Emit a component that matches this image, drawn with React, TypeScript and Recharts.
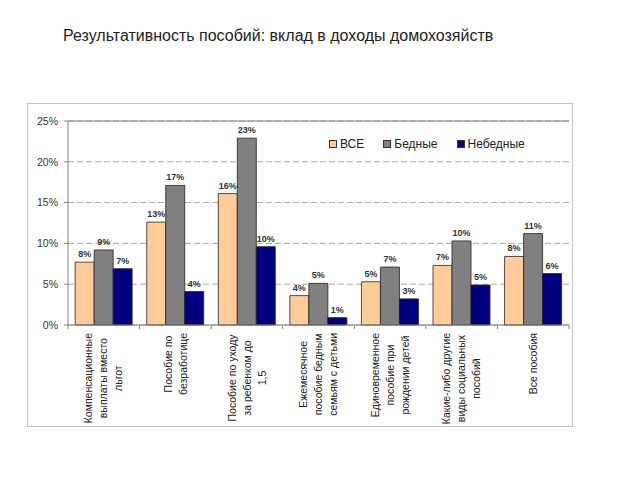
import { BarChart, Bar, XAxis, YAxis, CartesianGrid, Legend, LabelList, ReferenceLine } from 'recharts';

const categories = [
  'Компенсационные\nвыплаты вместо\nльгот',
  'Пособие по\nбезработице',
  'Пособие  по уходу\nза ребенком до\n1,5',
  'Ежемесячное\nпособие бедным\nсемьям с детьми',
  'Единовременное\nпособие при\nрождении детей',
  'Какие-либо другие\nвиды социальных\nпособий',
  'Все пособия',
];

// shares of household income, %
const allValues = [7.7, 12.6, 16.1, 3.6, 5.3, 7.3, 8.4];
const poorValues = [9.2, 17.1, 22.9, 5.1, 7.1, 10.3, 11.2];
const nonPoorValues = [6.9, 4.1, 9.6, 0.9, 3.2, 4.9, 6.3];

const yTicks = [0, 5, 10, 15, 20, 25];

const series = [
  { key: 'all', name: 'ВСЕ', color: '#FFCC99' },
  { key: 'poor', name: 'Бедные', color: '#808080' },
  { key: 'nonPoor', name: 'Небедные', color: '#000080' },
];

const data = categories.map((name, i) => ({
  name,
  all: allValues[i],
  poor: poorValues[i],
  nonPoor: nonPoorValues[i],
}));

const FONT = '"Liberation Sans", Arial, sans-serif';
const TICK_FONT_SIZE = 10.5;

let measureCtx: CanvasRenderingContext2D | null = null;
function textWidth(s: string) {
  if (!measureCtx) measureCtx = document.createElement('canvas').getContext('2d');
  if (!measureCtx) return s.length * 5.6;
  measureCtx.font = `${TICK_FONT_SIZE}px ${FONT}`;
  return measureCtx.measureText(s).width;
}

function CategoryTick(props: any) {
  const { x, y, payload, index } = props;
  const lines = String(payload.value).split('\n');
  const half = payload.offset ?? 36;
  const block = Math.max(...lines.map(textWidth));
  const mid = 8 + block / 2;
  return (
    <g>
      <line x1={x - half} x2={x - half} y1={y} y2={y + 4} stroke="#808080" />
      {index === categories.length - 1 && (
        <line x1={x + half} x2={x + half} y1={y} y2={y + 4} stroke="#808080" />
      )}
      <g transform={`translate(${x},${y}) rotate(-90)`}>
        {lines.map((l, i) => (
          <text key={i} x={-mid} y={(i - (lines.length - 1) / 2) * 15} dy="0.35em"
            textAnchor="middle" fontSize={TICK_FONT_SIZE} fill="#222" fontFamily={FONT}>
            {l}
          </text>
        ))}
      </g>
    </g>
  );
}

function LegendBox({ payload }: any) {
  const items = [...(payload || [])].sort(
    (a: any, b: any) => series.findIndex((s) => s.name === a.value) - series.findIndex((s) => s.name === b.value),
  );
  return (
    <div style={{ display: 'flex', fontSize: 12, fontFamily: FONT, color: '#222', whiteSpace: 'nowrap' }}>
      {items.map((p: any) => (
        <div key={p.value} style={{ display: 'flex', alignItems: 'center', marginRight: 19 }}>
          <span style={{ display: 'inline-block', width: 6, height: 6, background: p.color, border: '1px solid #333', marginRight: 3 }} />
          <span>{p.value}</span>
        </div>
      ))}
    </div>
  );
}

export default function App() {
  return (
    <div style={{ position: 'absolute', left: 0, top: 0, width: 640, height: 480, background: '#fff' }}>
      <div style={{ position: 'absolute', left: 63, top: 27, fontSize: 16, fontFamily: FONT, color: '#222', whiteSpace: 'nowrap' }}>
        Результативность пособий: вклад в доходы домохозяйств
      </div>
      <div style={{ position: 'absolute', left: 27, top: 103, width: 544, height: 322, border: '1px solid #c4c4c4' }} />
      <div style={{ position: 'absolute', left: 0, top: 0 }}>
        <BarChart width={640} height={480} data={data} margin={{ top: 121, right: 71, left: 0, bottom: 0 }}
          barCategoryGap="10%" barGap={0} style={{ fontFamily: FONT }}>
          <CartesianGrid vertical={false} stroke="#a8a8a8" strokeDasharray="6 3" />
          <XAxis dataKey="name" interval={0} height={155} tickSize={0} tickMargin={0} tickLine={false}
            axisLine={{ stroke: '#808080' }} tick={<CategoryTick />} />
          <YAxis domain={[0, 25]} ticks={yTicks} width={68} tickSize={4} tickMargin={6}
            tickFormatter={(v) => `${v}%`} axisLine={{ stroke: '#808080' }} tickLine={{ stroke: '#808080' }}
            tick={{ fontSize: 10.5, fill: '#333', fontFamily: FONT }} />
          <YAxis yAxisId="r" orientation="right" width={0} domain={[0, 25]} tick={false} tickLine={false}
            axisLine={{ stroke: '#808080' }} />
          <ReferenceLine y={25} stroke="#808080" />
          <Legend layout="vertical" align="center" verticalAlign="middle" content={<LegendBox />}
            wrapperStyle={{ position: 'absolute', top: 137, left: 329, width: 'auto', height: 'auto' }} />
          {series.map((s) => (
            <Bar key={s.key} dataKey={s.key} name={s.name} fill={s.color} stroke="#222" strokeWidth={0.8}
              isAnimationActive={false}>
              <LabelList dataKey={s.key} position="top" offset={5} fontSize={9} fontWeight="bold" fill="#333"
                fontFamily={FONT} formatter={(v: any) => `${Math.round(Number(v))}%`} />
            </Bar>
          ))}
        </BarChart>
      </div>
    </div>
  );
}
